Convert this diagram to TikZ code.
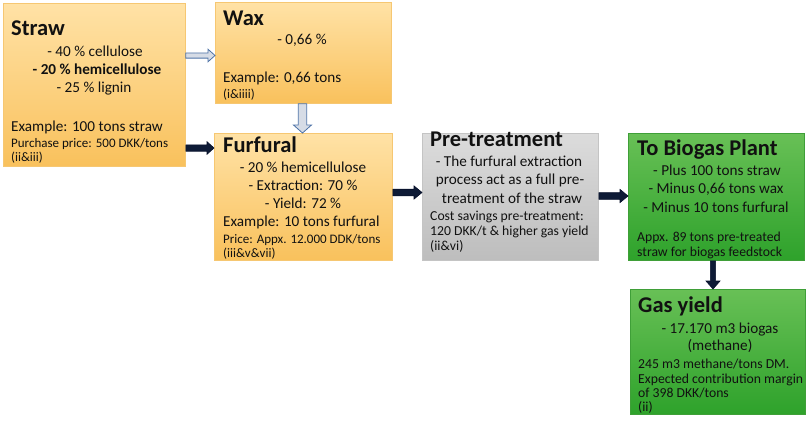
\documentclass[tikz,border=0pt]{standalone}
\usepackage{fontspec}
\setmainfont{Carlito}
\usetikzlibrary{calc}
\definecolor{orTop}{HTML}{FFE2A6}
\definecolor{orBot}{HTML}{F9C15C}
\definecolor{orLine}{HTML}{F6C772}
\definecolor{grTop}{HTML}{DCDCDC}
\definecolor{grBot}{HTML}{BDBDBD}
\definecolor{grLine}{HTML}{C4C4C4}
\definecolor{gnTop}{HTML}{68C056}
\definecolor{gnBot}{HTML}{2EA22B}
\definecolor{gnLine}{HTML}{3F9F38}
\definecolor{navyA}{HTML}{0E1B36}
\definecolor{navyB}{HTML}{07102A}
\definecolor{lightA}{HTML}{D6DCE6}
\definecolor{lightB}{HTML}{4F74A8}
\definecolor{ink}{HTML}{111111}
\newcommand\titlefs{\fontsize{22.5}{26}\selectfont\bfseries}
\newcommand\bodyfs{\fontsize{15.2}{18}\selectfont}
\newcommand\medfs{\fontsize{13.7}{16}\selectfont}
\newcommand\smallfs{\fontsize{13}{15}\selectfont}
% horizontal block arrow: style, from, to, half shaft, half head, head length
\newcommand\hblockarrow[6]{%
  \draw[#1] let \p1=(#2), \p2=(#3) in
    (\x1,\y1+#4) -- (\x2-#6,\y1+#4) -- (\x2-#6,\y1+#5) -- (\x2,\y1)
    -- (\x2-#6,\y1-#5) -- (\x2-#6,\y1-#4) -- (\x1,\y1-#4) -- cycle;}
% vertical (downward) block arrow
\newcommand\vblockarrow[6]{%
  \draw[#1] let \p1=(#2), \p2=(#3) in
    (\x1+#4,\y1) -- (\x1+#4,\y2+#6) -- (\x1+#5,\y2+#6) -- (\x1,\y2)
    -- (\x1-#5,\y2+#6) -- (\x1-#4,\y2+#6) -- (\x1-#4,\y1) -- cycle;}
\begin{document}
\begin{tikzpicture}[x=1pt,y=-1pt,
  box/.style={anchor=north west, inner sep=0pt, line width=0.8pt},
  obox/.style={box, top color=orTop, bottom color=orBot, draw=orLine},
  gbox/.style={box, top color=grTop, bottom color=grBot, draw=grLine},
  nbox/.style={box, top color=gnTop, bottom color=gnBot, draw=gnLine},
  txt/.style={inner sep=0pt, text=ink},
  lt/.style={txt, anchor=base west},
  ct/.style={txt, anchor=base},
  darkarrow/.style={fill=navyA, draw=navyB, line width=0.6pt, line join=miter},
  lightarrow/.style={fill=lightA, draw=lightB, line width=0.8pt, line join=miter}]
\useasboundingbox (0,0) rectangle (809,421);
\fill[white] (0,0) rectangle (809,421);

% boxes
\node[obox, minimum width=182pt, minimum height=163pt] (straw) at (3,3) {};
\node[obox, minimum width=176pt, minimum height=101pt] (wax) at (215,2) {};
\node[obox, minimum width=178pt, minimum height=127pt] (furf) at (214,133) {};
\node[gbox, minimum width=176pt, minimum height=127pt] (pre) at (422,133) {};
\node[nbox, minimum width=176pt, minimum height=127pt] (bio) at (628,133) {};
\node[nbox, minimum width=175pt, minimum height=125pt] (gas) at (630,289) {};

% Straw text
\node[lt] (s0) at (11,35) {\titlefs Straw};
\node[ct] (s1) at (95,56) {\bodyfs - 40 \% cellulose};
\node[ct] (s2) at (97,74) {\bodyfs\bfseries - 20 \% hemicellulose};
\node[ct] (s3) at (94,92) {\bodyfs - 25 \% lignin};
\node[lt] (s4) at (11,131) {\bodyfs Example: 100 tons straw};
\node[lt] (s5) at (11,147) {\smallfs Purchase price: 500 DKK/tons};
\node[lt] (s6) at (11,161) {\smallfs (ii\&iii)};

% Wax text
\node[lt] (w0) at (223,25) {\titlefs Wax};
\node[ct] (w1) at (302,44) {\bodyfs - 0,66 \%};
\node[lt] (w2) at (223,82) {\bodyfs Example: 0,66 tons};
\node[lt] (w3) at (223,98) {\smallfs (i\&iiii)};

% Furfural text
\node[lt] (f0) at (223,152) {\titlefs Furfural};
\node[ct] (f1) at (303,172) {\bodyfs - 20 \% hemicellulose};
\node[ct] (f2) at (303,190) {\bodyfs - Extraction: 70 \%};
\node[ct] (f3) at (303,208) {\bodyfs - Yield: 72 \%};
\node[lt] (f4) at (223,226) {\bodyfs Example: 10 tons furfural};
\node[lt] (f5) at (223,243) {\smallfs Price: Appx. 12.000 DDK/tons};
\node[lt] (f6) at (223,257) {\smallfs (iii\&v\&vii)};

% Pre-treatment text
\node[lt] (p0) at (430,146) {\titlefs Pre-treatment};
\node[ct] (p1) at (509,166) {\bodyfs - The furfural extraction};
\node[ct] (p2) at (510,184) {\bodyfs process act as a full pre-};
\node[ct] (p3) at (512,203) {\bodyfs treatment of the straw};
\node[lt] (p4) at (430,220) {\medfs Cost savings pre-treatment:};
\node[lt] (p5) at (430,235) {\medfs 120 DKK/t \& higher gas yield};
\node[lt] (p6) at (430,250) {\medfs (ii\&vi)};

% Biogas text
\node[lt] (b0) at (637,155) {\titlefs To Biogas Plant};
\node[ct] (b1) at (717,175) {\bodyfs - Plus 100 tons straw};
\node[ct] (b2) at (716,193) {\bodyfs - Minus 0,66 tons wax};
\node[ct] (b3) at (716,212) {\bodyfs - Minus 10 tons furfural};
\node[lt] (b4) at (637,241) {\medfs Appx. 89 tons pre-treated};
\node[lt] (b5) at (637,256) {\medfs straw for biogas feedstock};

% Gas yield text
\node[lt] (g0) at (638,312) {\titlefs Gas yield};
\node[ct] (g1) at (720,333) {\bodyfs - 17.170 m3 biogas};
\node[ct] (g2) at (720,350) {\bodyfs (methane)};
\node[lt] (g3) at (638,368) {\medfs 245 m3 methane/tons DM.};
\node[lt] (g4) at (638,383) {\medfs Expected contribution margin};
\node[lt] (g5) at (638,397) {\medfs of 398 DKK/tons};
\node[lt] (g6) at (638,411) {\medfs (ii)};

% arrow levels
\coordinate (y1) at (0,55.5);
\coordinate (y2) at (0,148);
\coordinate (x3) at (302.5,0);
\coordinate (y4) at (0,192.5);
\coordinate (y5) at (0,196);
\coordinate (x6) at (713,0);

\hblockarrow{lightarrow}{straw.east |- y1}{wax.west |- y1}{2.6pt}{6.3pt}{7pt}
\hblockarrow{darkarrow}{straw.east |- y2}{furf.west |- y2}{3.2pt}{6.3pt}{7pt}
\vblockarrow{lightarrow}{x3 |- wax.south}{x3 |- furf.north}{4.2pt}{9pt}{8pt}
\hblockarrow{darkarrow}{furf.east |- y4}{pre.west |- y4}{3.3pt}{6.6pt}{8pt}
\hblockarrow{darkarrow}{pre.east |- y5}{bio.west |- y5}{3.3pt}{6.6pt}{8pt}
\vblockarrow{darkarrow}{x6 |- bio.south}{x6 |- gas.north}{2.6pt}{7pt}{8pt}
\end{tikzpicture}
\end{document}
